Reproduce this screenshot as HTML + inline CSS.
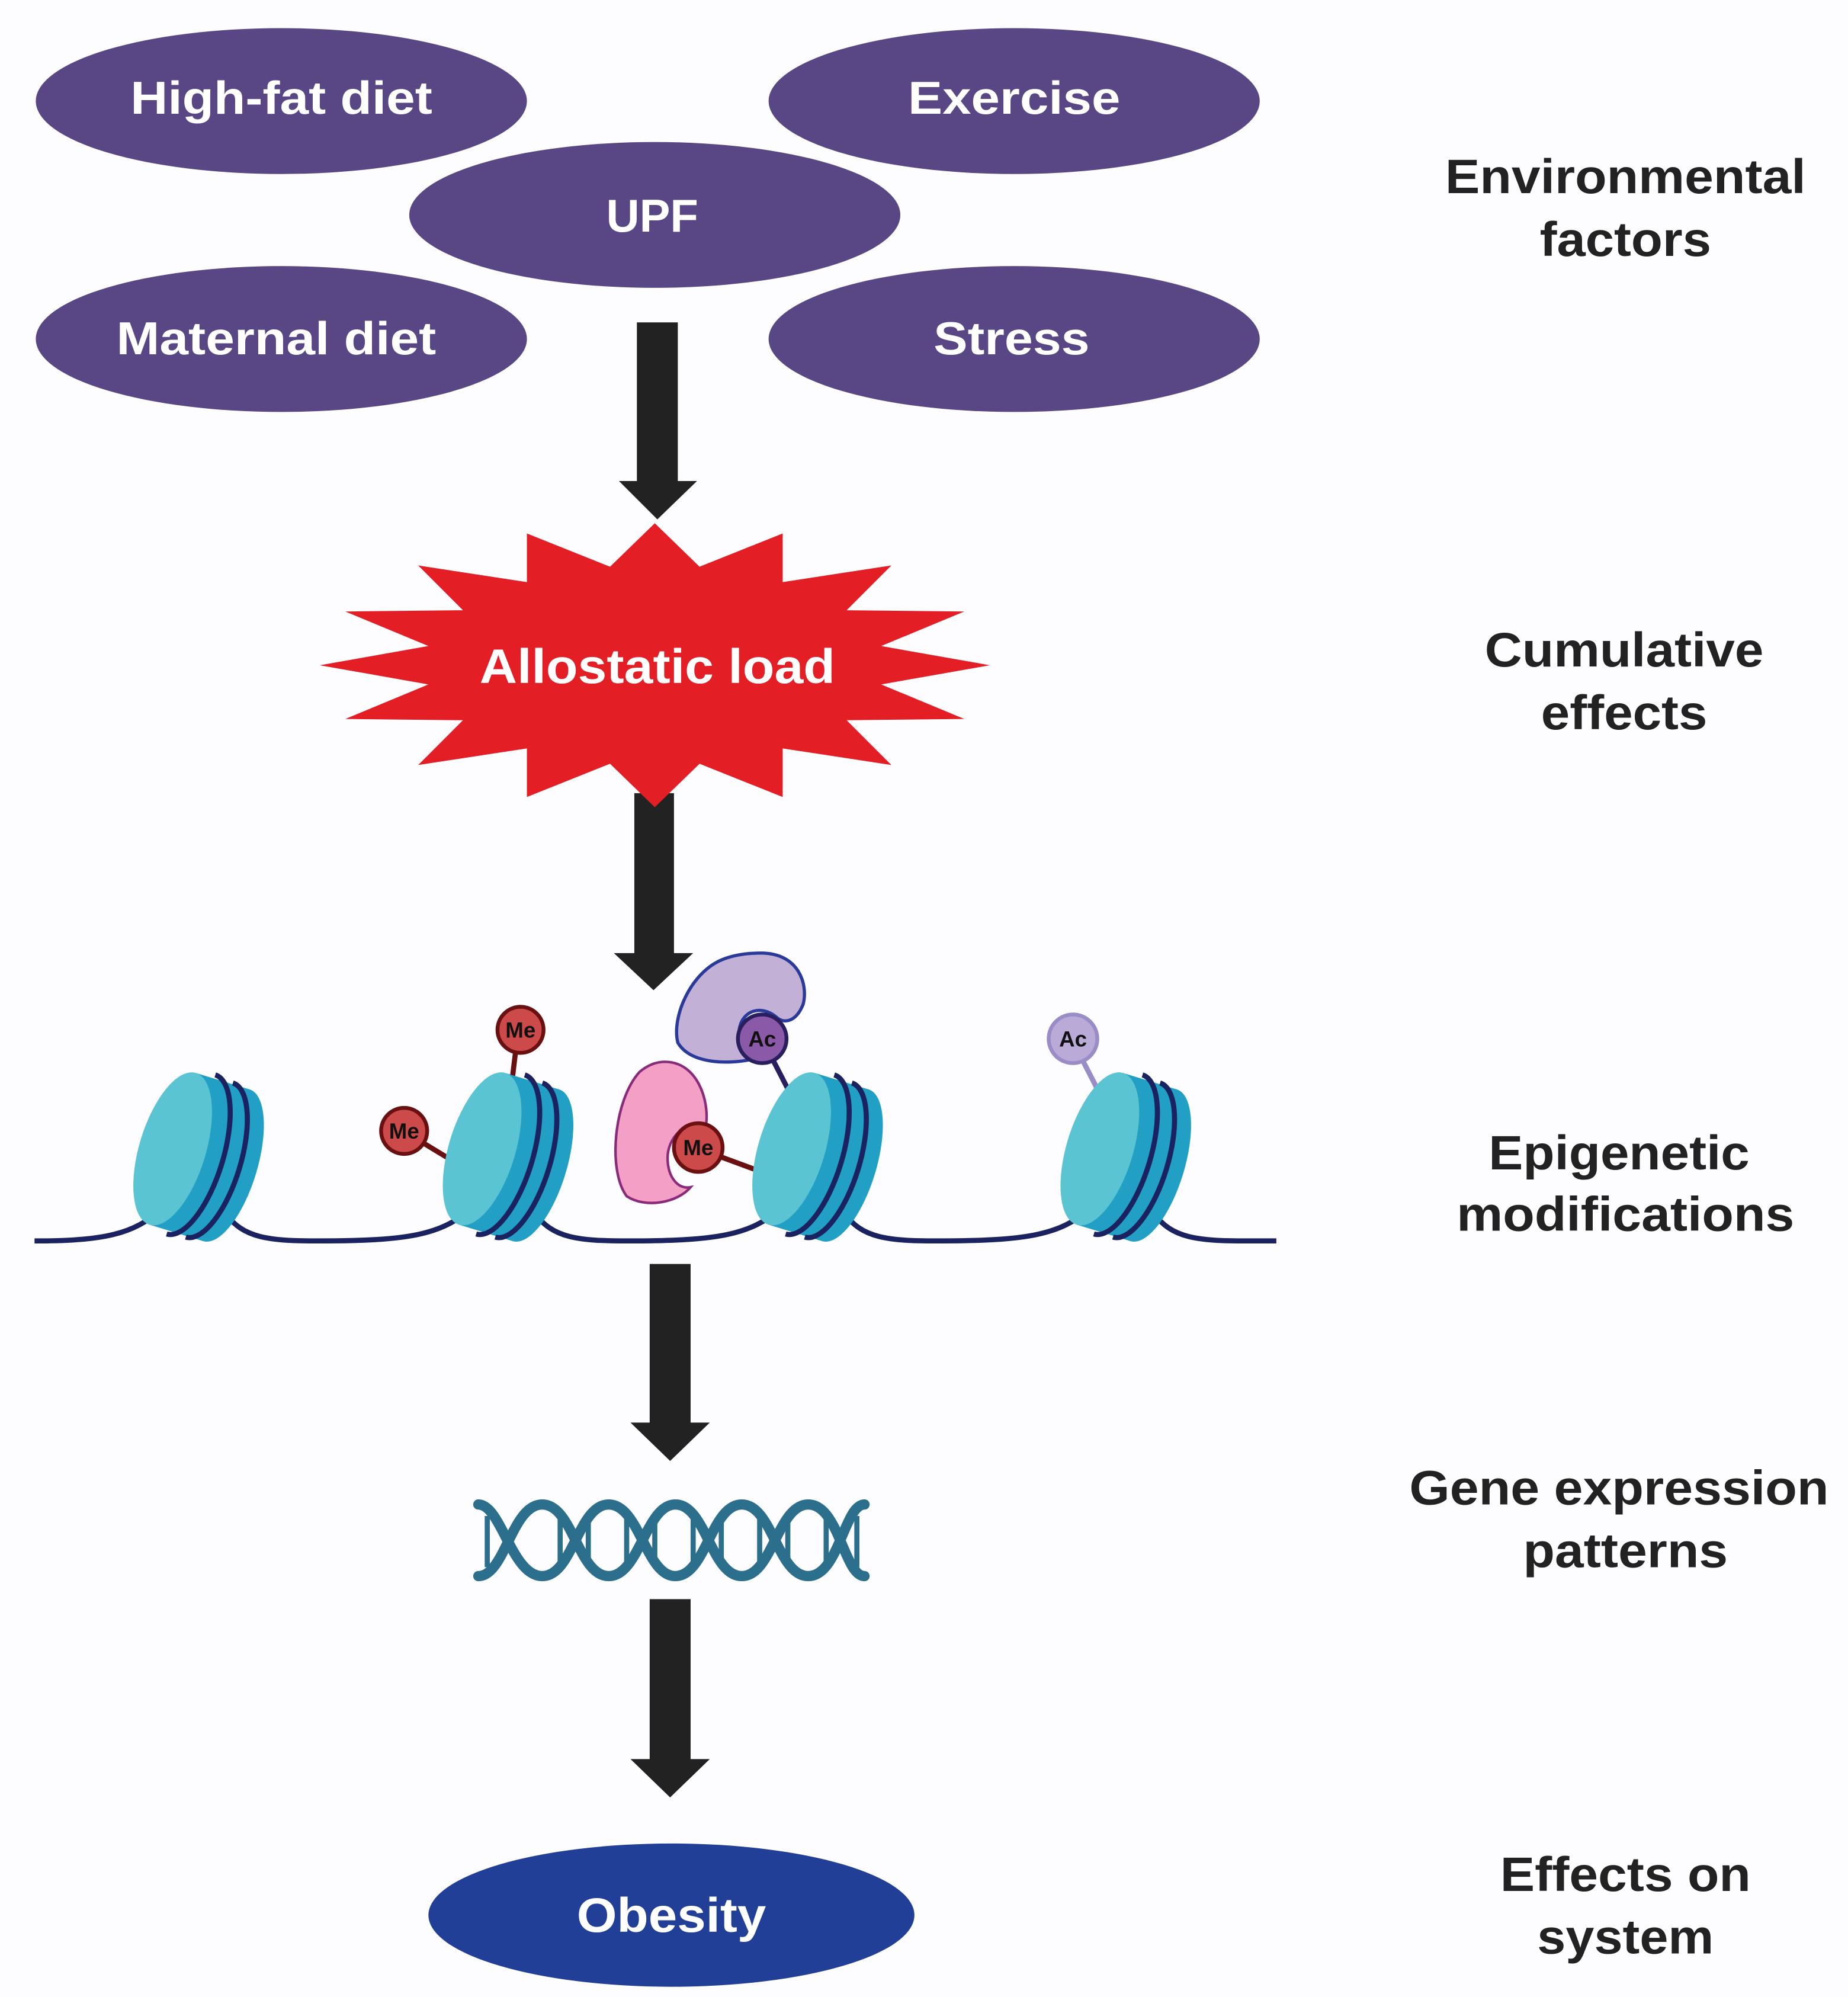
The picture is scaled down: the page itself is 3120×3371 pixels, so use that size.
<!DOCTYPE html>
<html><head><meta charset="utf-8"><style>
html,body{margin:0;padding:0;background:#fdfcfe;}
svg{display:block}
text{font-family:"Liberation Sans",Arial,sans-serif;font-weight:bold;}
</style></head><body>
<svg width="3120" height="3371" viewBox="0 0 1445 1561" preserveAspectRatio="none" xmlns="http://www.w3.org/2000/svg">
<rect width="1445" height="1561" fill="#fdfcfe"/>
<g fill="#594684">
<ellipse cx="220" cy="79" rx="192" ry="57"/>
<ellipse cx="793" cy="79" rx="192" ry="57"/>
<ellipse cx="512" cy="168" rx="192" ry="57"/>
<ellipse cx="220" cy="265" rx="192" ry="57"/>
<ellipse cx="793" cy="265" rx="192" ry="57"/>
</g>
<g fill="#fff" font-size="36" text-anchor="middle">
<text x="220" y="89" textLength="236" lengthAdjust="spacingAndGlyphs">High-fat diet</text>
<text x="793" y="89" textLength="166" lengthAdjust="spacingAndGlyphs">Exercise</text>
<text x="510" y="181">UPF</text>
<text x="216" y="277" textLength="250" lengthAdjust="spacingAndGlyphs">Maternal diet</text>
<text x="791" y="277" textLength="122" lengthAdjust="spacingAndGlyphs">Stress</text>
</g>
<g fill="#222">
<rect x="498" y="252" width="32" height="126"/><polygon points="484,376 545,376 514,406"/>
<rect x="496" y="620" width="31" height="127"/><polygon points="480,745 542,745 511,774"/>
<rect x="508" y="988" width="32" height="126"/><polygon points="493,1112 555,1112 524,1142"/>
<rect x="508" y="1250" width="32" height="127"/><polygon points="493,1375 555,1375 524,1405"/>
</g>
<polygon fill="#e31e24" points="774,520 689,505 754,478 662,477 697,442 612,455 612,417 547,443 512,409 477,443 412,417 412,455 327,442 362,477 270,478 335,505 250,520 335,535 270,562 362,563 327,598 412,585 412,623 477,597 512,631 547,597 612,623 612,585 697,598 662,563 754,562 689,535"/>
<text x="514" y="534" fill="#fff" font-size="38" text-anchor="middle" textLength="278" lengthAdjust="spacingAndGlyphs">Allostatic load</text>
<g fill="none" stroke="#1b2260" stroke-width="4">
<path d="M27,970 C80,970 105,965 126,945"/>
<path d="M176,948 C190,968 210,970 250,970 C320,970 345,965 368,945"/>
<path d="M418,948 C432,968 452,970 492,970 C562,970 587,965 610,945"/>
<path d="M660,948 C674,968 694,970 734,970 C804,970 829,965 852,945"/>
<path d="M902,948 C916,968 936,970 976,970 L998,970"/>
</g>
<defs>
<g id="nuc">
<ellipse cx="44" cy="0" rx="24" ry="62" fill="#229fc4"/>
<rect x="0" y="-62" width="44" height="124" fill="#229fc4"/>
<ellipse cx="0" cy="0" rx="26" ry="62" fill="#5bc4d2"/>
<path d="M15,-65 A24,62 0 0 1 15,65" fill="none" stroke="#1b2260" stroke-width="4"/>
<path d="M30,-63 A24,62 0 0 1 30,63" fill="none" stroke="#1b2260" stroke-width="4"/>
</g>
</defs>
<use href="#nuc" transform="translate(135,898) rotate(17)"/>
<g stroke-width="4">
<line x1="404" y1="815" x2="400" y2="848" stroke="#6a1010"/>
<line x1="322" y1="888" x2="350" y2="905" stroke="#6a1010"/>
<line x1="552" y1="900" x2="590" y2="914" stroke="#6a1010"/>
<line x1="600" y1="820" x2="618" y2="855" stroke="#2a1f5e"/>
<line x1="842" y1="820" x2="860" y2="855" stroke="#9a8cc6"/>
</g>
<use href="#nuc" transform="translate(377,898) rotate(17)"/>
<use href="#nuc" transform="translate(619,898) rotate(17)"/>
<use href="#nuc" transform="translate(860,898) rotate(17)"/>
<path d="M520,830 C545,830 555,860 552,880 C535,875 522,890 522,905 C522,920 530,930 540,928 C530,940 505,945 490,935 C475,915 480,860 500,838 C507,832 514,830 520,830 Z" fill="#f4a0c6" stroke="#8a2a7a" stroke-width="2"/>
<path d="M595,745 C625,745 632,770 628,785 C622,800 612,800 607,795 C595,785 580,790 578,805 C577,815 580,825 588,828 C570,832 540,832 530,815 C525,795 540,760 565,750 C575,746 585,745 595,745 Z" fill="#c3b0d6" stroke="#2a3a9a" stroke-width="2.5"/>
<g stroke-width="3" font-size="17" text-anchor="middle">
<circle cx="407" cy="805" r="18" fill="#cc4a4a" stroke="#6a1010"/><text x="407" y="811" fill="#111" stroke="none">Me</text>
<circle cx="316" cy="884" r="18" fill="#cc4a4a" stroke="#6a1010"/><text x="316" y="890" fill="#111" stroke="none">Me</text>
<circle cx="546" cy="897" r="19" fill="#cc4a4a" stroke="#6a1010"/><text x="546" y="903" fill="#111" stroke="none">Me</text>
<circle cx="596" cy="812" r="19" fill="#8a5aa8" stroke="#2a1f5e"/><text x="596" y="818" fill="#111" stroke="none">Ac</text>
<circle cx="839" cy="812" r="19" fill="#b9aad8" stroke="#9a8cc6"/><text x="839" y="818" fill="#111" stroke="none">Ac</text>
</g>
<g fill="none" stroke="#2b6f8d" stroke-width="8" stroke-linecap="round">
<path d="M374,1176 C392,1176 400,1232 424,1232 C448,1232 452,1176 476,1176 C500,1176 505,1232 528,1232 C552,1232 556,1176 580,1176 C604,1176 608,1232 632,1232 C656,1232 660,1176 676,1176"/>
<path d="M374,1232 C395,1232 400,1176 424,1176 C448,1176 452,1232 476,1232 C500,1232 505,1176 528,1176 C552,1176 556,1232 580,1232 C604,1232 608,1176 632,1176 C656,1176 660,1232 676,1232"/>
</g>
<g stroke="#2b6f8d" stroke-width="4">
<line x1="381" y1="1185" x2="381" y2="1225"/><line x1="438" y1="1185" x2="438" y2="1225"/><line x1="460" y1="1185" x2="460" y2="1225"/>
<line x1="490" y1="1185" x2="490" y2="1225"/><line x1="512" y1="1185" x2="512" y2="1225"/><line x1="542" y1="1185" x2="542" y2="1225"/>
<line x1="564" y1="1185" x2="564" y2="1225"/><line x1="594" y1="1185" x2="594" y2="1225"/><line x1="616" y1="1185" x2="616" y2="1225"/>
<line x1="646" y1="1185" x2="646" y2="1225"/><line x1="670" y1="1185" x2="670" y2="1225"/>
</g>
<ellipse cx="525" cy="1497" rx="190" ry="56" fill="#223f98"/>
<text x="525" y="1510" fill="#fff" font-size="38" text-anchor="middle" textLength="148" lengthAdjust="spacingAndGlyphs">Obesity</text>
<g fill="#222" font-size="38" text-anchor="middle">
<text x="1271" y="151" textLength="282" lengthAdjust="spacingAndGlyphs">Environmental</text>
<text x="1271" y="200" textLength="134" lengthAdjust="spacingAndGlyphs">factors</text>
<text x="1270" y="521" textLength="218" lengthAdjust="spacingAndGlyphs">Cumulative</text>
<text x="1270" y="570" textLength="130" lengthAdjust="spacingAndGlyphs">effects</text>
<text x="1266" y="914" textLength="204" lengthAdjust="spacingAndGlyphs">Epigenetic</text>
<text x="1271" y="962" textLength="264" lengthAdjust="spacingAndGlyphs">modifications</text>
<text x="1266" y="1176" textLength="328" lengthAdjust="spacingAndGlyphs">Gene expression</text>
<text x="1271" y="1225" textLength="160" lengthAdjust="spacingAndGlyphs">patterns</text>
<text x="1271" y="1478" textLength="196" lengthAdjust="spacingAndGlyphs">Effects on</text>
<text x="1271" y="1527" textLength="138" lengthAdjust="spacingAndGlyphs">system</text>
</g>
</svg>
</body></html>
